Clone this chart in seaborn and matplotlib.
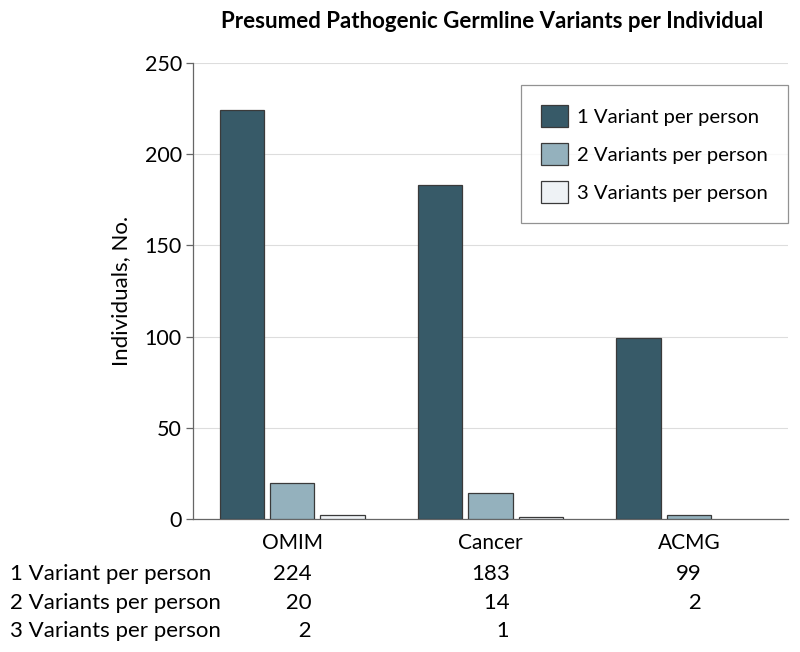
import matplotlib
matplotlib.use("Agg")
import matplotlib.pyplot as plt
import numpy as np
import pandas as pd
import seaborn as sns

categories = ["OMIM", "Cancer", "ACMG"]
series = ["1 Variant per person", "2 Variants per person", "3 Variants per person"]
one_variant = [224, 183, 99]
two_variants = [20, 14, 2]
three_variants = [2, 1, np.nan]
colors = ["#375A68", "#94B1BD", "#EEF2F5"]

sns.set_style("white")
plt.rcParams["font.family"] = ["Lato", "DejaVu Sans"]
plt.rcParams["text.color"] = "black"
plt.rcParams["axes.labelcolor"] = "black"
plt.rcParams["xtick.color"] = "black"
plt.rcParams["ytick.color"] = "black"

rows = []
for name, vals in zip(series, [one_variant, two_variants, three_variants]):
    for cat, v in zip(categories, vals):
        rows.append({"category": cat, "series": name, "count": v})
df = pd.DataFrame(rows)

fig = plt.figure(figsize=(8, 6.52), dpi=100)
ax = fig.add_axes([193 / 800, 1 - 519 / 652, 595 / 800, 456 / 652])

sns.barplot(ax=ax, data=df, x="category", y="count", hue="series",
            hue_order=series, order=categories, palette=colors,
            width=0.76, gap=0.12, edgecolor="#3a3a3a", linewidth=0.9,
            saturation=1, zorder=3)

ax.set_ylim(0, 250)
ax.set_yticks([0, 50, 100, 150, 200, 250])
ax.set_xlim(-0.5, 2.5)
ax.yaxis.grid(True, color="#dddddd", linewidth=0.8, zorder=0)
ax.set_axisbelow(True)
sns.despine(ax=ax)
for s in ["left", "bottom"]:
    ax.spines[s].set_color("#666666")
    ax.spines[s].set_linewidth(0.9)
ax.tick_params(axis="y", length=5, width=0.9, color="#666666", labelsize=15.5, pad=3, left=True)
ax.tick_params(axis="x", length=0, labelsize=15, pad=10)
ax.set_xlabel("")
ax.set_ylabel("Individuals, No.", fontsize=16, labelpad=10)

fig.text(492 / 800, 1 - 22 / 652, "Presumed Pathogenic Germline Variants per Individual",
         ha="center", va="center", fontsize=16, fontweight="bold")

leg = ax.legend(loc="upper right", bbox_to_anchor=(1.0, 0.952), fontsize=14.6,
                frameon=True, fancybox=False, edgecolor="#777777",
                handlelength=1.3, handleheight=1.3, labelspacing=0.78,
                borderpad=1.0, handletextpad=0.45, borderaxespad=0)
leg.get_frame().set_linewidth(0.9)

# table of values under the plot
table_y = [1 - 574 / 652, 1 - 603 / 652, 1 - 631 / 652]
trans = matplotlib.transforms.blended_transform_factory(ax.transData, fig.transFigure)
all_vals = [one_variant, two_variants, three_variants]
for r, name in enumerate(series):
    fig.text(10 / 800, table_y[r], name, ha="left", va="center", fontsize=16)
for c in range(len(categories)):
    col = ["" if np.isnan(v[c]) else str(int(v[c])) for v in all_vals]
    w = max(len(s) for s in col)
    for r, s in enumerate(col):
        if not s:
            continue
        txt = "\u2007" * (w - len(s)) + s
        ax.text(c, table_y[r], txt, transform=trans, ha="center", va="center", fontsize=16)

fig.savefig("out.png", dpi=100)
